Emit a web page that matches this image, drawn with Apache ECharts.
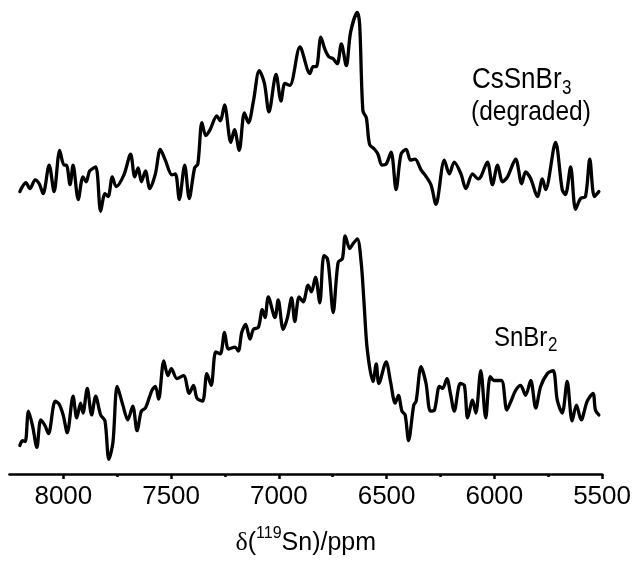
<!DOCTYPE html>
<html>
<head>
<meta charset="utf-8">
<script src="https://cdn.jsdelivr.net/npm/echarts@6/dist/echarts.min.js"></script>
<style>
html,body{margin:0;padding:0;background:#fff;}
#chart{width:634px;height:561px;}
</style>
</head>
<body>
<div id="chart"></div>
<script>
// Chemical shift (ppm) and intensity (arbitrary units, vertically offset stack)
const ppmTop = [8202,8174,8155,8131,8112,8094,8066,8043,8017,7997,
7986,7969,7955,7931,7909,7894,7878,7850,7827,7807,
7792,7773,7755,7719,7688,7669,7653,7638,7619,7599,
7573,7550,7527,7496,7480,7462,7437,7416,7391,7376,
7357,7339,7319,7288,7272,7252,7223,7206,7184,7160,
7141,7118,7091,7067,7046,7013,6990,6972,6949,6902,
6856,6841,6826,6805,6787,6768,6748,6729,6710,6687,
6667,6636,6625,6610,6594,6579,6556,6540,6522,6502,
6479,6456,6433,6409,6389,6368,6340,6322,6294,6271,
6232,6209,6186,6155,6132,6101,6075,6063,6032,6009,
5985,5962,5939,5901,5873,5855,5831,5800,5777,5762,
5716,5685,5670,5646,5623,5600,5577,5557,5536,5515];
const intTop = [287,296,290,299,295,285,314,287,329,314,
314,294,314,279,302,297,308,312,267,285,
282,302,292,304,325,302,311,297,308,290,
305,330,319,304,305,279,314,280,311,315,
357,344,350,364,359,375,337,350,329,367,
357,379,410,397,368,406,379,397,395,434,
407,414,414,444,432,424,422,417,437,415,
449,469,457,369,362,335,330,325,314,315,
327,289,325,330,319,320,309,304,294,274,
319,305,317,305,290,305,300,302,317,294,
314,297,302,320,295,307,300,282,300,289,
337,289,284,312,269,280,282,320,282,287];

const ppmBottom = [8202,8190,8177,8162,8143,8123,8105,8085,8069,8038,
8020,8001,7982,7955,7938,7920,7909,7889,7869,7850,
7827,7807,7789,7770,7750,7724,7701,7678,7658,7638,
7619,7589,7573,7558,7534,7515,7499,7473,7442,7416,
7396,7380,7354,7334,7314,7293,7272,7252,7234,7203,
7188,7172,7154,7134,7118,7095,7077,7064,7049,7018,
7003,6980,6960,6941,6926,6906,6887,6864,6849,6830,
6810,6791,6775,6764,6748,6725,6705,6692,6671,6656,
6636,6618,6605,6590,6563,6548,6536,6502,6482,6460,
6445,6429,6414,6398,6374,6363,6340,6317,6297,6278,
6255,6240,6220,6204,6186,6158,6139,6124,6101,6086,
6063,6040,6019,6001,5967,5942,5921,5901,5878,5855,
5831,5808,5785,5754,5727,5708,5685,5662,5639,5619,
5597,5569,5542,5531,5515];
const intBottom = [29,34,33,64,49,27,55,49,41,74,
71,60,42,79,57,72,62,87,60,79,
60,54,15,32,89,70,55,69,44,64,
67,85,89,76,115,100,107,97,100,82,
90,77,74,102,90,124,122,144,127,129,
125,144,152,137,147,149,167,159,180,159,
177,147,159,179,155,180,175,192,185,200,
174,222,219,200,164,215,219,242,229,234,
239,215,175,127,94,112,92,114,94,72,
80,64,60,34,70,74,109,92,64,65,
89,87,97,82,64,92,90,57,75,62,
105,57,99,95,95,65,75,85,90,80,
95,67,89,102,105,75,62,94,54,70,
55,74,82,65,60];

const majorTicks = [8000,7500,7000,6500,6000,5500];
const minorTicks = [7750,7250,6750,6250,5750];
const xMin = 5500, xMax = 8250;
const labelTop = ['CsSnBr', '3', '(degraded)'];
const labelBottom = ['SnBr', '2'];

const FONT = "'Liberation Sans', Arial, Helvetica, sans-serif";
const SERIF = "'Liberation Serif', 'DejaVu Serif', serif";

const chart = echarts.init(document.getElementById('chart'), null, {renderer: 'canvas'});

function pairs(xs, ys){ return xs.map((x,i)=>[x, ys[i]]); }

const lineStyle = {color:'#000', width:3.3, join:'round', cap:'round'};
const SY = 1.16;

function txt(t, x, y, size){
  return {type:'text', x: x, y: y, scaleY: SY,
    style:{text: t, font: size + 'px ' + FONT, fill:'#000', align:'left', verticalAlign:'middle'}};
}

chart.setOption({
  animation: false,
  backgroundColor: '#fff',
  grid: {left: 9.5, right: 29, top: 1.7, bottom: 79.3, containLabel: false},
  xAxis: [{
    type: 'value', inverse: true, min: xMin, max: xMax,
    position: 'bottom',
    axisLine: {show: true, lineStyle: {color:'#000', width: 2.7}},
    axisTick: {show: true, customValues: majorTicks, length: 5, inside: false, lineStyle:{color:'#000', width: 2.5}},
    axisLabel: {show: true, customValues: majorTicks, margin: 10, color:'#000', fontSize: 26, fontFamily: FONT,
      formatter: function(v){ return String(v); }},
    splitLine: {show: false},
    name: '{d|δ}{a|(}{s|119}{a|Sn)/ppm}',
    nameLocation: 'middle', nameGap: 52,
    nameTextStyle: {
      color:'#000', fontFamily: FONT, fontSize: 25,
      rich: {
        d: {fontSize: 26, fontFamily: SERIF, color:'#000', lineHeight: 30, verticalAlign:'bottom'},
        a: {fontSize: 25, fontFamily: FONT, color:'#000', lineHeight: 30, verticalAlign:'bottom'},
        s: {fontSize: 16, fontFamily: FONT, color:'#000', lineHeight: 30, verticalAlign:'top'}
      }
    }
  }, {
    type: 'value', inverse: true, min: xMin, max: xMax,
    position: 'bottom', gridIndex: 0,
    axisLine: {show: false},
    axisTick: {show: true, customValues: minorTicks, length: 3, inside: false, lineStyle:{color:'#000', width: 2.5}},
    axisLabel: {show: false},
    splitLine: {show: false}
  }],
  yAxis: {type: 'value', min: 0, max: 480, show: false},
  series: [{
    name: 'CsSnBr3 (degraded)', type: 'line', xAxisIndex: 0,
    data: pairs(ppmTop, intTop), showSymbol: false, smooth: 0.3,
    lineStyle: lineStyle, clip: false
  }, {
    name: 'SnBr2', type: 'line', xAxisIndex: 0,
    data: pairs(ppmBottom, intBottom), showSymbol: false, smooth: 0.3,
    lineStyle: lineStyle, clip: false
  }],
  graphic: [
    txt(labelTop[0], 472, 79.5, 26),
    txt(labelTop[1], 562, 88.5, 17),
    txt(labelTop[2], 471, 112, 24.5),
    txt(labelBottom[0], 494, 338.5, 24),
    txt(labelBottom[1], 548, 345.2, 17)
  ]
});
</script>
</body>
</html>
